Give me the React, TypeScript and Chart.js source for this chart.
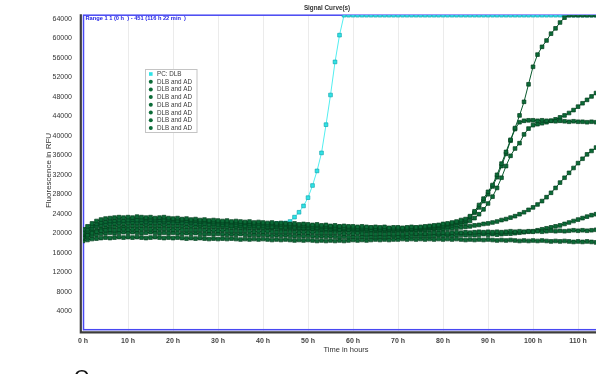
import React, { useEffect, useRef } from "react";
import { Chart, registerables } from "chart.js";

Chart.register(...registerables);

// Time in hours (sampled hourly)
const HOURS = [
  0, 1, 2, 3, 4, 5, 6, 7, 8, 9,
  10, 11, 12, 13, 14, 15, 16, 17, 18, 19,
  20, 21, 22, 23, 24, 25, 26, 27, 28, 29,
  30, 31, 32, 33, 34, 35, 36, 37, 38, 39,
  40, 41, 42, 43, 44, 45, 46, 47, 48, 49,
  50, 51, 52, 53, 54, 55, 56, 57, 58, 59,
  60, 61, 62, 63, 64, 65, 66, 67, 68, 69,
  70, 71, 72, 73, 74, 75, 76, 77, 78, 79,
  80, 81, 82, 83, 84, 85, 86, 87, 88, 89,
  90, 91, 92, 93, 94, 95, 96, 97, 98, 99,
  100, 101, 102, 103, 104, 105, 106, 107, 108, 109,
  110, 111, 112, 113, 114, 115, 116,
];

const X_TICKS = [0, 10, 20, 30, 40, 50, 60, 70, 80, 90, 100, 110];
const Y_TICKS = [
  4000, 8000, 12000, 16000, 20000, 24000, 28000, 32000,
  36000, 40000, 44000, 48000, 52000, 56000, 60000, 64000,
];

const X_MAX = 116.37; // 116 h 22 min
const Y_MAX = 64800;

const LABEL_PC = "PC: DLB";
const LABEL_SAMPLE = "DLB and AD";

const PC_DLB = [
  20100, 20600, 21200, 21600, 21900, 22000, 22100, 22200, 22300, 22300,
  22400, 22300, 22400, 22300, 22200, 22300, 22400, 22300, 22200, 22300,
  22200, 22300, 22100, 22200, 22100, 22000, 22100, 22000, 22100, 21900,
  22000, 21900, 21900, 22000, 21800, 21900, 21800, 21900, 21800, 21900,
  21800, 21900, 21900, 22000, 22000, 22100, 22400, 23300, 24300, 25600,
  27300, 29800, 32800, 36500, 42300, 48400, 55200, 60700, 64800, 64800,
  64800, 64800, 64800, 64800, 64800, 64800, 64800, 64800, 64800, 64800,
  64800, 64800, 64800, 64800, 64800, 64800, 64800, 64800, 64800, 64800,
  64800, 64800, 64800, 64800, 64800, 64800, 64800, 64800, 64800, 64800,
  64800, 64800, 64800, 64800, 64800, 64800, 64800, 64800, 64800, 64800,
  64800, 64800, 64800, 64800, 64800, 64800, 64800, 64800, 64800, 64800,
  64800, 64800, 64800, 64800, 64800, 64800, 64800,
];

const SAMPLE_1 = [
  20800, 21400, 22000, 22500, 22800, 23000, 23100, 23200, 23300, 23200,
  23300, 23200, 23400, 23300, 23200, 23300, 23100, 23200, 23300, 23100,
  23000, 23100, 22900, 23000, 22800, 22900, 22700, 22800, 22600, 22700,
  22600, 22500, 22600, 22400, 22500, 22400, 22300, 22400, 22200, 22300,
  22200, 22100, 22200, 22000, 22100, 22000, 21900, 22000, 21800, 21900,
  21800, 21700, 21800, 21600, 21700, 21500, 21600, 21400, 21500, 21400,
  21400, 21300, 21400, 21300, 21200, 21300, 21200, 21300, 21100, 21200,
  21200, 21100, 21200, 21300, 21200, 21300, 21400, 21500, 21600, 21700,
  21900, 22000, 22200, 22400, 22700, 22900, 23500, 24500, 25800, 27100,
  28500, 29900, 32000, 34300, 36700, 39200, 41600, 44200, 47000, 50600,
  54200, 56700, 58300, 59600, 61000, 62100, 63300, 64300, 64800, 64800,
  64800, 64800, 64800, 64800, 64800, 64800, 64800,
];

const SAMPLE_2 = [
  20000, 20800, 21500, 21900, 22200, 22400, 22500, 22600, 22700, 22600,
  22700, 22800, 22700, 22800, 22900, 22800, 22700, 22800, 22700, 22800,
  22700, 22600, 22700, 22600, 22500, 22600, 22400, 22500, 22400, 22300,
  22300, 22200, 22300, 22100, 22200, 22000, 22100, 22000, 21900, 22000,
  21900, 21800, 21900, 21700, 21800, 21700, 21600, 21700, 21500, 21600,
  21500, 21400, 21500, 21300, 21400, 21300, 21200, 21300, 21100, 21200,
  21100, 21000, 21100, 21000, 21100, 20900, 21000, 20900, 21000, 20900,
  21000, 20900, 21000, 21000, 21100, 21100, 21200, 21300, 21400, 21500,
  21600, 21800, 22000, 22200, 22400, 22600, 23300, 24200, 25300, 26600,
  28000, 29600, 31500, 33800, 36300, 39000, 41400, 42800, 43100, 43200,
  43200, 43100, 43200, 43100, 43100, 43000, 43100, 43000, 42900, 43000,
  42900, 42900, 42800, 42900, 42800, 42800, 42700,
];

const SAMPLE_3 = [
  19700, 20400, 21000, 21400, 21600, 21800, 21900, 22000, 22100, 22000,
  22100, 22200, 22100, 22200, 22300, 22200, 22100, 22200, 22300, 22200,
  22100, 22200, 22100, 22000, 22100, 22000, 21900, 22000, 21800, 21900,
  21800, 21700, 21800, 21600, 21700, 21600, 21500, 21600, 21500, 21400,
  21500, 21400, 21300, 21400, 21300, 21200, 21300, 21200, 21100, 21200,
  21100, 21000, 21100, 21000, 20900, 21000, 20900, 20800, 20900, 20800,
  20900, 20800, 20900, 20800, 20700, 20800, 20700, 20800, 20700, 20800,
  20800, 20700, 20800, 20900, 20800, 20900, 21000, 21100, 21100, 21200,
  21300, 21400, 21600, 21700, 21900, 22100, 22500, 23100, 23900, 24900,
  26100, 27500, 29300, 31400, 33800, 35900, 37400, 38500, 40300, 41500,
  42200, 42400, 42600, 42800, 43100, 43400, 43800, 44200, 44700, 45300,
  46000, 46700, 47400, 48100, 48800, 49400, 50000,
];

const SAMPLE_4 = [
  19100, 19600, 20000, 20300, 20500, 20600, 20700, 20600, 20700, 20800,
  20700, 20800, 20700, 20800, 20900, 20800, 20700, 20800, 20900, 20800,
  20700, 20800, 20700, 20600, 20700, 20600, 20700, 20600, 20500, 20600,
  20500, 20600, 20500, 20400, 20500, 20400, 20500, 20400, 20300, 20400,
  20300, 20400, 20300, 20200, 20300, 20200, 20300, 20200, 20100, 20200,
  20100, 20200, 20100, 20000, 20100, 20000, 20100, 20000, 19900, 20000,
  19900, 20000, 19900, 19800, 19900, 19800, 19900, 19800, 19900, 19800,
  19900, 19800, 19900, 20000, 19900, 20000, 19900, 20000, 20100, 20000,
  20100, 20000, 20100, 20200, 20100, 20200, 20100, 20200, 20300, 20200,
  20300, 20200, 20300, 20200, 20300, 20400, 20300, 20400, 20300, 20400,
  20300, 20400, 20300, 20400, 20500, 20400, 20500, 20400, 20500, 20600,
  20500, 20600, 20500, 20600, 20700, 20600, 20700,
];

const SAMPLE_5 = [
  19300, 19800, 20300, 20600, 20900, 21100, 21200, 21300, 21400, 21300,
  21400, 21500, 21400, 21500, 21600, 21500, 21400, 21500, 21600, 21500,
  21400, 21500, 21400, 21300, 21400, 21300, 21400, 21300, 21200, 21300,
  21200, 21300, 21200, 21100, 21200, 21100, 21000, 21100, 21000, 21100,
  21000, 20900, 21000, 20900, 20800, 20900, 20800, 20900, 20700, 20800,
  20700, 20800, 20700, 20600, 20700, 20600, 20500, 20600, 20500, 20600,
  20500, 20400, 20500, 20400, 20500, 20400, 20500, 20400, 20500, 20400,
  20500, 20500, 20600, 20500, 20600, 20700, 20600, 20700, 20800, 20700,
  20800, 20900, 21000, 21100, 21200, 21300, 21400, 21600, 21700, 21900,
  22000, 22200, 22400, 22700, 22900, 23200, 23500, 23900, 24300, 24800,
  25300, 25900, 26600, 27400, 28300, 29300, 30400, 31400, 32400, 33400,
  34400, 35300, 36200, 36900, 37600, 38200, 38800,
];

const SAMPLE_6 = [
  18900, 19200, 19500, 19700, 19900, 20000, 20100, 20000, 20100, 20200,
  20100, 20200, 20100, 20000, 20100, 20200, 20100, 20000, 20100, 20000,
  20100, 20000, 19900, 20000, 19900, 20000, 19900, 19800, 19900, 19800,
  19900, 19800, 19700, 19800, 19700, 19800, 19700, 19600, 19700, 19600,
  19700, 19600, 19500, 19600, 19500, 19600, 19500, 19400, 19500, 19400,
  19500, 19400, 19300, 19400, 19300, 19400, 19300, 19200, 19300, 19200,
  19300, 19200, 19300, 19200, 19300, 19200, 19300, 19200, 19300, 19400,
  19300, 19400, 19300, 19400, 19500, 19400, 19500, 19400, 19500, 19600,
  19500, 19600, 19500, 19600, 19700, 19600, 19700, 19600, 19700, 19800,
  19700, 19800, 19700, 19800, 19900, 19900, 20000, 20100, 20200, 20300,
  20400, 20600, 20800, 21000, 21200, 21400, 21600, 21900, 22200, 22500,
  22800, 23100, 23400, 23700, 23900, 24200, 24400,
];

const SAMPLE_7 = [
  18400, 18600, 18800, 18900, 19000, 19100, 19000, 19100, 19200, 19100,
  19200, 19100, 19200, 19100, 19000, 19100, 19200, 19100, 19000, 19100,
  19000, 19100, 19000, 18900, 19000, 18900, 19000, 18900, 18800, 18900,
  18800, 18900, 18800, 18900, 18800, 18700, 18800, 18700, 18800, 18700,
  18800, 18700, 18600, 18700, 18600, 18700, 18600, 18500, 18600, 18500,
  18600, 18500, 18400, 18500, 18400, 18500, 18400, 18500, 18400, 18500,
  18600, 18500, 18600, 18500, 18600, 18700, 18600, 18700, 18600, 18700,
  18700, 18800, 18700, 18800, 18700, 18800, 18700, 18800, 18700, 18800,
  18700, 18800, 18700, 18800, 18700, 18600, 18700, 18600, 18700, 18600,
  18700, 18600, 18500, 18600, 18500, 18600, 18500, 18400, 18500, 18400,
  18500, 18400, 18500, 18400, 18300, 18400, 18300, 18400, 18300, 18200,
  18300, 18200, 18300, 18200, 18100, 18200, 18100,
];

const SAMPLES = [SAMPLE_1, SAMPLE_2, SAMPLE_3, SAMPLE_4, SAMPLE_5, SAMPLE_6, SAMPLE_7];

const CYAN_FILL = "#2fe3e6";
const CYAN_EDGE = "#14a7b0";
const CYAN_LINE = "#52eef0";
const GREEN_FILL = "#0b6b37";
const GREEN_EDGE = "#033d1c";
const GREEN_LINE = "#0a5a2e";

const FONT = "'Liberation Sans', Arial, sans-serif";

const decorPlugin = {
  id: "decor",
  beforeDatasetsDraw(chart: any) {
    const { ctx, chartArea: ca } = chart;
    ctx.save();
    // dark axis lines
    ctx.strokeStyle = "#3c3c3c";
    ctx.lineWidth = 2.2;
    ctx.beginPath();
    ctx.moveTo(ca.left - 2.2, ca.top - 1);
    ctx.lineTo(ca.left - 2.2, ca.bottom + 1.8);
    ctx.lineTo(chart.width, ca.bottom + 1.8);
    ctx.stroke();
    // blue plot frame
    ctx.strokeStyle = "#4848f2";
    ctx.lineWidth = 1.5;
    ctx.strokeRect(ca.left + 0.5, ca.top, ca.right - ca.left, ca.bottom - ca.top - 0.8);
    ctx.restore();
  },
  afterDraw(chart: any) {
    const { ctx, chartArea: ca } = chart;
    ctx.save();
    // Title
    ctx.fillStyle = "#333";
    ctx.font = `bold 6.3px ${FONT}`;
    ctx.textAlign = "center";
    ctx.textBaseline = "middle";
    ctx.fillText("Signal Curve(s)", 327, 8);
    // Range text
    ctx.fillStyle = "#2424e6";
    ctx.font = `bold 5.7px ${FONT}`;
    ctx.textAlign = "left";
    ctx.fillText("Range 1 1 (0 h  ) - 451 (116 h 22 min  )", ca.left + 2.5, 18.3);
    // Axis titles
    ctx.fillStyle = "#333";
    ctx.font = `7.5px ${FONT}`;
    ctx.textAlign = "center";
    ctx.fillText("Time in hours", 346, 349.5);
    ctx.save();
    ctx.translate(48.5, 170.5);
    ctx.rotate(-Math.PI / 2);
    ctx.font = `8px ${FONT}`;
    ctx.fillText("Fluorescence in RFU", 0, 0);
    ctx.restore();
    // Legend box
    const lx = 145.5, ly = 69.5, lw = 51.5, lh = 63;
    ctx.fillStyle = "#ffffff";
    ctx.fillRect(lx, ly, lw, lh);
    ctx.strokeStyle = "#c4c4c4";
    ctx.lineWidth = 1;
    ctx.strokeRect(lx, ly, lw, lh);
    ctx.font = `6.3px ${FONT}`;
    ctx.textAlign = "left";
    ctx.textBaseline = "middle";
    const items = chart.data.datasets;
    items.forEach((ds: any, i: number) => {
      const cy = 74 + i * 7.7;
      ctx.fillStyle = ds.pointBackgroundColor;
      if (i === 0) {
        ctx.fillRect(149, cy - 1.8, 3.6, 3.6);
      } else {
        ctx.beginPath();
        ctx.arc(150.8, cy, 2, 0, Math.PI * 2);
        ctx.fill();
      }
      ctx.fillStyle = "#3a3a3a";
      ctx.fillText(ds.label, 157, cy + 0.3);
    });
    ctx.restore();
  },
};

export default function App() {
  const ref = useRef<HTMLCanvasElement | null>(null);

  useEffect(() => {
    if (!ref.current) return;
    const toPoints = (vals: number[]) => HOURS.map((h, i) => ({ x: h, y: vals[i] }));
    const datasets: any[] = [
      {
        label: LABEL_PC,
        data: toPoints(PC_DLB),
        order: 1,
        borderColor: CYAN_LINE,
        backgroundColor: CYAN_FILL,
        pointBackgroundColor: CYAN_FILL,
        pointBorderColor: CYAN_EDGE,
      },
      ...SAMPLES.map((vals) => ({
        label: LABEL_SAMPLE,
        data: toPoints(vals),
        order: 0,
        borderColor: GREEN_LINE,
        backgroundColor: GREEN_FILL,
        pointBackgroundColor: GREEN_FILL,
        pointBorderColor: GREEN_EDGE,
      })),
    ].map((d) => ({
      ...d,
      borderWidth: 1,
      tension: 0,
      pointStyle: "rect",
      pointRadius: 2.6,
      pointBorderWidth: 0.7,
      fill: false,
    }));

    const chart = new Chart(ref.current, {
      type: "line",
      data: { datasets },
      plugins: [decorPlugin],
      options: {
        animation: false,
        responsive: false,
        devicePixelRatio: 1,
        layout: { padding: { top: 15, right: 33.3, left: 0, bottom: 0 } },
        plugins: {
          legend: { display: false },
          title: { display: false },
          tooltip: { enabled: false },
        },
        scales: {
          x: {
            type: "linear",
            min: 0,
            max: X_MAX,
            border: { display: false },
            grid: { color: "#ebebeb", lineWidth: 1, drawTicks: false },
            afterBuildTicks: (s: any) => {
              s.ticks = X_TICKS.map((value) => ({ value }));
            },
            afterFit: (s: any) => {
              s.height = 43.5;
            },
            ticks: {
              padding: 6,
              color: "#444",
              font: { family: FONT, size: 7, weight: "bold" },
              maxRotation: 0,
              minRotation: 0,
              autoSkip: false,
              callback: (v: any) => `${v} h`,
            },
          },
          y: {
            type: "linear",
            min: 0,
            max: Y_MAX,
            border: { display: false },
            grid: { display: true, color: "rgba(0,0,0,0)", drawTicks: false },
            afterBuildTicks: (s: any) => {
              s.ticks = Y_TICKS.map((value) => ({ value }));
            },
            afterFit: (s: any) => {
              s.width = 83;
            },
            ticks: {
              padding: 11,
              color: "#333",
              font: { family: FONT, size: 7 },
              autoSkip: false,
              callback: (v: any) => String(v),
            },
          },
        },
      },
    });
    return () => chart.destroy();
  }, []);

  return (
    <div
      style={{
        position: "fixed",
        left: 0,
        top: 0,
        width: 596,
        height: 374,
        overflow: "hidden",
        background: "#fff",
      }}
    >
      <canvas ref={ref} width={640} height={374} style={{ width: 640, height: 374, display: "block" }} />
      <div
        style={{
          position: "absolute",
          left: 74,
          top: 367,
          fontFamily: FONT,
          fontSize: 20,
          lineHeight: "20px",
          color: "#111",
        }}
      >
        O
      </div>
    </div>
  );
}
